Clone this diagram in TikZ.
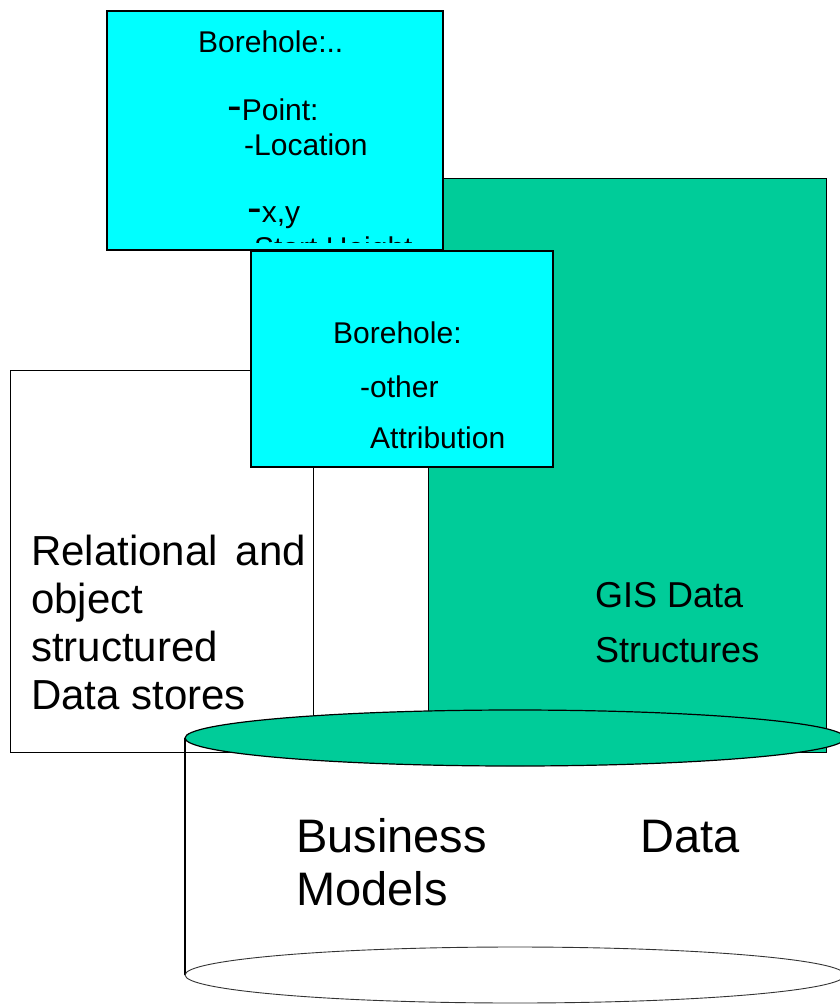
\documentclass[tikz,border=0pt]{standalone}
\usepackage{fontspec}
\setmainfont{Liberation Sans}
\usetikzlibrary{positioning}
\definecolor{gisgreen}{RGB}{0,204,153}
\definecolor{boreholecyan}{RGB}{0,255,255}
\newcommand{\bigdash}{{\fontsize{44}{44}\selectfont -}}

\begin{document}
\begin{tikzpicture}[x=1pt, y=-1pt,
    panel/.style={rectangle, draw=black, line width=1.2pt, anchor=north west, inner sep=0pt},
    cyanbox/.style={panel, fill=boreholecyan, line width=1.6pt},
    greenbox/.style={panel, fill=gisgreen, line width=1.4pt},
    txt/.style={anchor=base west, inner sep=0pt, font=\fontsize{30}{36}\selectfont},
    gistxt/.style={txt, font=\fontsize{36}{42}\selectfont},
    storetxt/.style={txt, font=\fontsize{42}{48}\selectfont},
    modeltxt/.style={txt, font=\fontsize{47}{53}\selectfont},
    drum/.style={draw=black, line width=1.2pt}
]
\clip (0,0) rectangle (840,1005);

% data stores and GIS structures (back layer)
\node[panel, minimum width=303pt, minimum height=382pt] (stores) at (10,370) {};
\node[greenbox, minimum width=398pt, minimum height=574pt] (gis) at (428,178) {};

% first borehole box, its text frame cuts off the last line
\node[cyanbox, minimum width=336pt, minimum height=239pt] (bhpoint) at (106,10) {};
\begin{scope}
  \clip (bhpoint.north west) rectangle ([yshift=8pt]bhpoint.south east);
  \node[txt] (bhtitle) at (198,52) {Borehole:..};
  \node[txt] (pointlbl) at (227,120) {\bigdash Point:};
  \node[txt] (loclbl) at (244,155) {-Location};
  \node[txt] (xylbl) at (247,222) {\bigdash x,y};
  \node[txt] (startlbl) at (244,258) {-Start Height};
\end{scope}

% second borehole box
\node[cyanbox, minimum width=302pt, minimum height=216pt] (bhattr) at (250,250) {};
\node[txt] (attrtitle) at (333,343) {Borehole:};
\node[txt] (otherlbl) at (360,397) {-other};
\node[txt] (attrlbl) at (370,448) {Attribution};

% box texts
\node[storetxt] (rel) at (31,565) {Relational};
\node[storetxt, anchor=base east] (relend) at (306,565) {and};
\node[storetxt] (obj) at (31,613) {object};
\node[storetxt] (struct) at (31,661) {structured};
\node[storetxt] (dstores) at (31,709) {Data stores};
\node[gistxt] (gisa) at (595,607) {GIS Data};
\node[gistxt] (gisb) at (595,662) {Structures};

% business data drum
\coordinate (drumtop) at (515,738);
\coordinate (drumbot) at (515,975);
\draw[drum] (185,738) -- (185,975);
\draw[drum, line width=0.9pt, black!80] (drumbot) ellipse [x radius=330, y radius=28];
\draw[drum, fill=gisgreen] (drumtop) ellipse [x radius=330, y radius=28];
\node[modeltxt] (bus) at (296,852) {Business};
\node[modeltxt, anchor=base east] (busdata) at (740,852) {Data};
\node[modeltxt] (models) at (296,905) {Models};
\end{tikzpicture}
\end{document}
